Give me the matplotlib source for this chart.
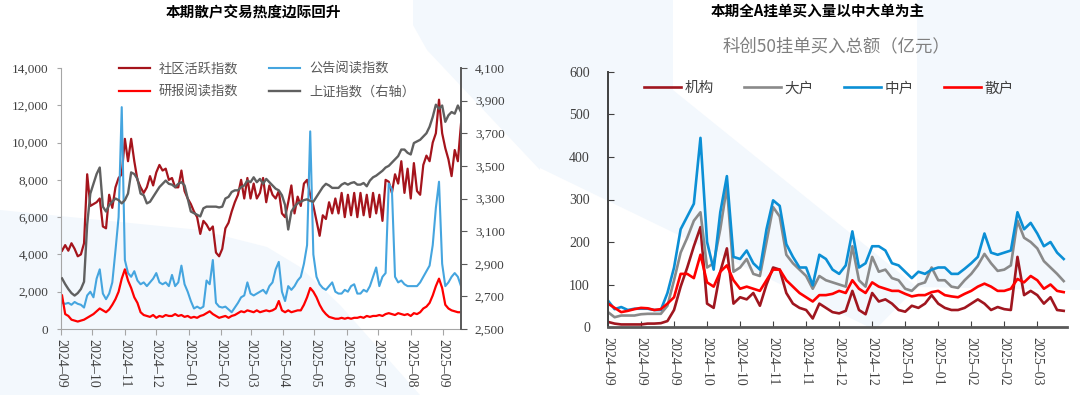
import matplotlib
matplotlib.use("Agg")
import matplotlib.pyplot as plt
import matplotlib.dates as mdates
import matplotlib.ticker as mticker
from matplotlib.patches import Polygon
import pandas as pd

plt.rcParams['font.family'] = ['Liberation Serif', 'Noto Sans CJK SC', 'DejaVu Sans']
CJK = ['Noto Sans CJK SC', 'DejaVu Sans']

# ---------------- Left chart data (every 3 days from 2024-09-02) ----------------
left_start = '2024-09-02'
left_step = '3D'
left_title = '本期散户交易热度边际回升'
left_names = ['社区活跃指数', '公告阅读指数', '研报阅读指数', '上证指数（右轴）']

community = [4200, 4500, 4200, 4600, 4300, 3900, 4000, 4600, 8300, 6600,
             6700, 6800, 7000, 5500, 5400, 7200, 6500, 7600, 8100, 8300,
             10200, 9000, 10200, 9000, 8000, 7600, 7300, 7600, 8200, 7700,
             8400, 8800, 8500, 8600, 8000, 8100, 7600, 7600, 8500, 7400,
             7000, 6700, 6300, 6000, 5100, 5800, 5600, 5300, 5500, 4100,
             3900, 4300, 5400, 5700, 6300, 6800, 7200, 8000, 7000, 8100,
             7000, 7800, 7000, 7300, 8100, 6800, 7700, 7200, 7000, 7400,
             6200, 6000, 6800, 7700, 6200, 7100, 6600, 7800, 8000, 7200,
             6600, 5800, 5000, 6100, 5900, 6800, 6200, 7000, 6200, 7300,
             6000, 7200, 6100, 7300, 6000, 7300, 6100, 7200, 6000, 7300,
             6200, 7200, 5800, 8000, 7900, 7300, 8300, 7800, 9000, 7300,
             8600, 7000, 8900, 7400, 7200, 8800, 9300, 9000, 10000, 10500,
             12300, 10500, 9700, 9100, 8200, 9600, 9000, 11000]

announce = [1400, 1350, 1400, 1300, 1450, 1350, 1300, 1150, 1800, 2000,
            1700, 2700, 3200, 1900, 1600, 1900, 2500, 4200, 6000, 11900,
            3700, 3000, 2800, 3100, 2600, 2400, 2500, 2300, 2500, 2700,
            3000, 2500, 2400, 2500, 2300, 2900, 2300, 2500, 3400, 2400,
            2000, 1500, 1100, 1200, 1100, 1200, 2600, 2400, 3700, 1400,
            1200, 1150, 1200, 1050, 900, 1150, 1400, 1700, 1800, 2500,
            1900, 1800, 1900, 2000, 2100, 1900, 2300, 2500, 3200, 3600,
            2000, 1500, 2300, 2100, 2300, 2600, 2800, 3500, 4500, 10600,
            4000, 2800, 2400, 2200, 2100, 2300, 2500, 2000, 1900, 1900,
            2100, 2000, 2300, 2400, 1900, 1900, 2100, 2000, 2300, 2800,
            3300, 2300, 2800, 3000, 7800, 7500, 2800, 2500, 2600, 2400,
            2300, 2300, 2300, 2300, 2500, 2800, 3100, 3400, 4500, 6500,
            7900, 3500, 2300, 2500, 2800, 3000, 2800, 2300]

research = [1800, 800, 700, 500, 450, 400, 450, 500, 600, 700,
            800, 950, 1100, 1000, 900, 1050, 1300, 1600, 2000, 2700,
            3200, 2600, 2200, 1700, 1400, 900, 750, 700, 650, 750,
            600, 700, 650, 750, 700, 700, 800, 700, 750, 650,
            700, 600, 650, 600, 700, 750, 850, 950, 800, 700,
            600, 650, 700, 600, 700, 750, 850, 950, 900, 1000,
            950, 900, 1000, 900, 950, 1000, 950, 1000, 1100, 1500,
            1000, 900, 1000, 900, 950, 1000, 1000, 1300, 1700, 2200,
            2000, 1700, 1300, 1000, 800, 650, 600, 550, 550, 600,
            550, 600, 550, 600, 600, 650, 600, 700, 650, 700,
            700, 750, 700, 800, 850, 800, 750, 850, 800, 750,
            800, 700, 850, 800, 900, 1100, 1200, 1400, 1800, 2300,
            2700, 2200, 1300, 1100, 1000, 950, 900, 900]

sh_index = [2810, 2775, 2745, 2720, 2705, 2720, 2745, 2790, 3140, 3330,
            3390, 3450, 3490, 3250, 3220, 3260, 3280, 3300, 3290, 3270,
            3290, 3330, 3460, 3450, 3420, 3330, 3320, 3270, 3280, 3310,
            3340, 3370, 3390, 3410, 3390, 3385, 3370, 3390, 3400, 3380,
            3300, 3220, 3210, 3200, 3190, 3240, 3250, 3250, 3250, 3250,
            3245, 3250, 3300, 3310, 3340, 3350, 3350, 3370, 3380, 3410,
            3400, 3430, 3400, 3420, 3390, 3420, 3400, 3380, 3360, 3350,
            3320, 3260, 3110, 3220, 3250, 3270, 3280, 3290, 3295, 3285,
            3280, 3310, 3340, 3370, 3390, 3380, 3365, 3365, 3365, 3385,
            3395, 3385, 3395, 3400, 3385, 3385, 3395, 3375, 3410, 3430,
            3440, 3455, 3470, 3490, 3500, 3520, 3540, 3560, 3600, 3600,
            3580, 3570, 3640, 3650, 3660, 3680, 3700, 3740, 3800, 3875,
            3850, 3870, 3770, 3810, 3830, 3820, 3870, 3830]

# ---------------- Right chart data ----------------
right_title = '本期全A挂单买入量以中大单为主'
right_subtitle = '科创50挂单买入总额（亿元）'
right_names = ['机构', '大户', '中户', '散户']
right_ticklabels = ['2024–09', '2024–09', '2024–09', '2024–10', '2024–10', '2024–11', '2024–11',
                    '2024–12', '2024–12', '2025–01', '2025–01', '2025–02', '2025–02', '2025–03']

inst = [12, 8, 6, 6, 6, 6, 8, 8, 9, 14, 40, 95, 140, 190, 235, 55, 45, 130, 185, 55,
        70, 65, 80, 50, 100, 140, 135, 80, 55, 45, 40, 20, 55, 45, 35, 32, 38, 85, 40, 30,
        80, 60, 65, 55, 40, 36, 50, 45, 55, 75, 55, 45, 40, 40, 45, 55, 65, 55, 40, 47,
        42, 40, 165, 75, 85, 75, 55, 70, 40, 38]
big = [35, 23, 27, 27, 27, 30, 31, 31, 31, 50, 110, 175, 210, 250, 270, 140, 150, 230, 330, 130,
       140, 160, 125, 120, 200, 282, 260, 170, 150, 135, 120, 90, 120, 110, 105, 100, 95, 190, 110, 95,
       165, 130, 135, 115, 110, 90, 85, 100, 105, 140, 110, 110, 95, 92, 110, 125, 145, 172, 150, 132,
       135, 145, 250, 210, 200, 185, 155, 140, 125, 108]
mid = [62, 42, 47, 40, 43, 43, 43, 40, 40, 80, 140, 230, 260, 290, 445, 200, 135, 270, 355, 165,
       160, 180, 150, 135, 230, 298, 285, 195, 165, 140, 140, 98, 170, 160, 135, 125, 145, 225, 140, 150,
       190, 190, 180, 150, 145, 130, 115, 130, 125, 135, 140, 140, 125, 125, 137, 150, 165, 220, 175, 170,
       175, 180, 270, 230, 245, 220, 190, 200, 175, 160]
retail = [55, 45, 35, 38, 42, 45, 44, 40, 42, 55, 70, 125, 125, 115, 170, 105, 95, 130, 145, 110,
          90, 95, 90, 85, 110, 135, 135, 110, 95, 80, 70, 60, 75, 75, 78, 85, 80, 110, 90, 80,
          105, 95, 90, 85, 85, 78, 72, 75, 75, 82, 85, 75, 72, 70, 78, 85, 95, 102, 95, 85,
          85, 90, 113, 105, 120, 110, 90, 100, 85, 82]

# ---------------- Figure ----------------
W, H = 1080, 395
fig = plt.figure(figsize=(W / 100, H / 100), dpi=100)


def fx(x):
    return x / W


def fy(y):
    return 1 - y / H


bg = '#f3f8fd'
for pts in [
    [(0, 210), (120, 222), (200, 230), (267, 247), (300, 267), (340, 305), (420, 395), (0, 395)],
    [(413, 0), (540, 0), (540, 170), (427, 50), (413, 25)],
    [(540, 0), (673, 0), (673, 90), (917, 287), (875, 330), (540, 168)],
    [(917, 0), (1080, 0), (1080, 290), (917, 287)],
]:
    fig.add_artist(Polygon([(fx(a), fy(b)) for a, b in pts], closed=True,
                           transform=fig.transFigure, facecolor=bg, edgecolor='none', zorder=0))

# ---------------- Left chart ----------------
dates = pd.date_range(left_start, periods=len(community), freq=left_step)
ax1 = fig.add_axes([fx(61), fy(329), fx(400), 261 / H])
ax1.patch.set_alpha(0)
l1, = ax1.plot(dates, community, color='#a5141c', lw=1.6)
l2, = ax1.plot(dates, announce, color='#45a5df', lw=1.5)
l3, = ax1.plot(dates, research, color='#ff0000', lw=1.6)
ax1.set_ylim(0, 14000)
ax1.set_yticks(range(0, 14001, 2000))
ax1.yaxis.set_major_formatter(mticker.FuncFormatter(lambda v, p: f'{int(v):,}'))
ax1.set_xlim(pd.Timestamp('2024-09-01'), pd.Timestamp('2025-09-18'))
ax1.xaxis.set_major_locator(mdates.MonthLocator())
ax1.xaxis.set_major_formatter(mdates.DateFormatter('%Y–%m'))

ax2 = ax1.twinx()
l4, = ax2.plot(dates, sh_index, color='#606060', lw=1.7)
ax2.set_ylim(2500, 4100)
ax2.set_yticks(range(2500, 4101, 200))
ax2.yaxis.set_major_formatter(mticker.FuncFormatter(lambda v, p: f'{int(v):,}'))

for a in (ax1, ax2):
    a.spines['top'].set_visible(False)
ax1.spines['right'].set_visible(False)
ax1.spines['left'].set_color('#a6a6a6')
ax1.spines['bottom'].set_color('#a6a6a6')
ax2.spines['left'].set_visible(False)
ax2.spines['bottom'].set_visible(False)
ax2.spines['right'].set_color('#595959')
ax2.spines['right'].set_linewidth(1.4)
ax1.tick_params(axis='y', direction='out', length=3, color='#a6a6a6', labelsize=9.5,
                labelcolor='#404040', pad=6)
ax1.tick_params(axis='x', direction='out', length=4, color='#a6a6a6', labelsize=10,
                labelcolor='#404040', labelrotation=-90, pad=3)
ax2.tick_params(axis='y', direction='out', length=4, color='#595959', labelsize=9.5,
                labelcolor='#404040', pad=6)

# legend is filled column-wise, so order for rows: (l1, l2) / (l3, l4)
leg1 = fig.legend([l1, l3, l2, l4], [left_names[0], left_names[2], left_names[1], left_names[3]],
                  ncol=2, loc='upper left',
                  bbox_to_anchor=(fx(112), fy(56)), frameon=False,
                  prop={'family': CJK, 'size': 9.5}, handlelength=2.4, handletextpad=0.65,
                  columnspacing=2.3, labelspacing=0.75, borderpad=0)
for t in leg1.get_texts():
    t.set_color('#595959')

fig.text(fx(253), fy(12), left_title, ha='center', va='center', fontsize=10.5,
         fontweight='bold', family=CJK, color='#000000')

# ---------------- Right chart ----------------
idx = list(range(len(inst)))
ax3 = fig.add_axes([fx(608), fy(327), fx(459), 255 / H])
ax3.patch.set_alpha(0)
r1, = ax3.plot(idx, inst, color='#a0161f', lw=1.9)
r2, = ax3.plot(idx, big, color='#8a8a8a', lw=1.9)
r3, = ax3.plot(idx, mid, color='#0b8fd5', lw=1.9)
r4, = ax3.plot(idx, retail, color='#ff0000', lw=1.9)
ax3.set_ylim(0, 600)
ax3.set_yticks(range(0, 601, 100))
ax3.set_xlim(0, len(inst) - 0.5)
ax3.set_xticks(idx[::5])
ax3.set_xticklabels(right_ticklabels)
for s in ('top', 'right'):
    ax3.spines[s].set_visible(False)
ax3.spines['left'].set_color('#404040')
ax3.spines['left'].set_linewidth(1.4)
ax3.spines['bottom'].set_color('#595959')
ax3.spines['bottom'].set_linewidth(2)
ax3.tick_params(axis='y', direction='in', length=4, color='#404040', labelsize=10,
                labelcolor='#404040', pad=13)
ax3.tick_params(axis='x', direction='in', length=4, color='#404040', labelsize=10,
                labelcolor='#404040', labelrotation=-90, pad=7)

leg2 = ax3.legend([r1, r2, r3, r4], right_names, ncol=4, loc='upper left',
                  bbox_to_anchor=(fx(637), fy(74)), bbox_transform=fig.transFigure,
                  frameon=False, prop={'family': CJK, 'size': 10.5}, handlelength=2.5,
                  handletextpad=0.25, columnspacing=2.1, borderpad=0)
for t in leg2.get_texts():
    t.set_color('#404040')

fig.text(fx(818), fy(12), right_title, ha='center', va='center', fontsize=10.5,
         fontweight='bold', family=CJK, color='#000000')
fig.text(fx(836), fy(46), right_subtitle, ha='center', va='center', fontsize=12.5,
         family=CJK, color='#7f7f7f')

fig.savefig('out.png', dpi=100)
